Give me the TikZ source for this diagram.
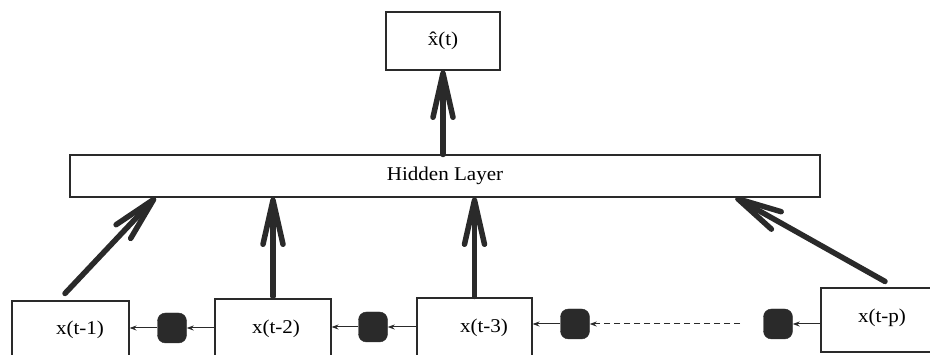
\documentclass[tikz,border=0pt]{standalone}
\usepackage{fontspec}
\setmainfont{Liberation Serif}[FakeStretch=1.08]
\usetikzlibrary{arrows.meta,calc}
\definecolor{ink}{HTML}{2A2A2A}
\tikzset{
  box/.style={draw=ink, line width=1.1pt, fill=white, inner sep=0pt, font=\fontsize{19.5}{22}\selectfont},
  delay/.style={fill=ink, draw=ink, rounded corners=8pt, minimum width=29pt, minimum height=30pt, inner sep=0pt},
  bigarrow/.style={draw=ink, line width=5.5pt, line cap=round, line join=round,
    -{Straight Barb[length=44pt, width=20pt, line cap=round, line join=round]}},
  thinarrow/.style={draw=ink, line width=1pt, -{Stealth[length=7pt, width=5pt]}},
  lbl/.style={font=\fontsize{19.5}{22}\selectfont, inner sep=0pt}
}
\begin{document}
\begin{tikzpicture}[x=1pt,y=-1pt]
\useasboundingbox (0,0) rectangle (930,355);
\clip (0,0) rectangle (930,355);
% boxes
\node[box, minimum width=114pt, minimum height=58pt] (top) at (443,41) {\^{x}(t)};
\node[box, minimum width=750pt, minimum height=42pt] (hl) at (445,176) {Hidden Layer};
\node[box, minimum width=117pt, minimum height=60pt] (b1) at (70.5,331) {};
\node[box, minimum width=116pt, minimum height=60pt] (b2) at (273,329) {};
\node[box, minimum width=115pt, minimum height=60pt] (b3) at (474.5,328) {};
\node[box, minimum width=119pt, minimum height=64pt] (bp) at (880.5,320) {};
\node[lbl] (t1) at (80,330) {x(t-1)};
\node[lbl] (t2) at (276,329) {x(t-2)};
\node[lbl] (t3) at (484,328) {x(t-3)};
\node[lbl] (tp) at (882,318) {x(t-p)};
% delays
\node[delay] (d1) at (172,328) {};
\node[delay] (d2) at (373,327) {};
\node[delay] (d3) at (575,324) {};
\node[delay] (d4) at (778,324) {};
\coordinate (ds) at (740,324);
% thin arrows
\draw[thinarrow] (b2.west |- d1.east) -- (d1.east);
\draw[thinarrow] (d1.west) -- (d1.west -| b1.east);
\draw[thinarrow] (b3.west |- d2.east) -- (d2.east);
\draw[thinarrow] (d2.west) -- (d2.west -| b2.east);
\draw[thinarrow, dash pattern=on 6pt off 4pt] (ds) -- (d3.east);
\draw[thinarrow] (d3.west) -- (d3.west -| b3.east);
\draw[thinarrow] (bp.west |- d4.east) -- (d4.east);
% thick arrows
\draw[bigarrow] (top.south |- hl.north) -- (top.south);
\draw[bigarrow] ($(b1.north)+(-5.5,-7)$) -- ($(hl.south west)+(86,0)$);
\draw[bigarrow] ($(b2.north)+(0,-2)$) -- (b2.north |- hl.south);
\draw[bigarrow] ($(b3.north)+(0,-1)$) -- (b3.north |- hl.south);
\draw[bigarrow] ($(bp.north)+(4.5,-6)$) -- ($(hl.south east)+(-85,0)$);
\end{tikzpicture}
\end{document}
